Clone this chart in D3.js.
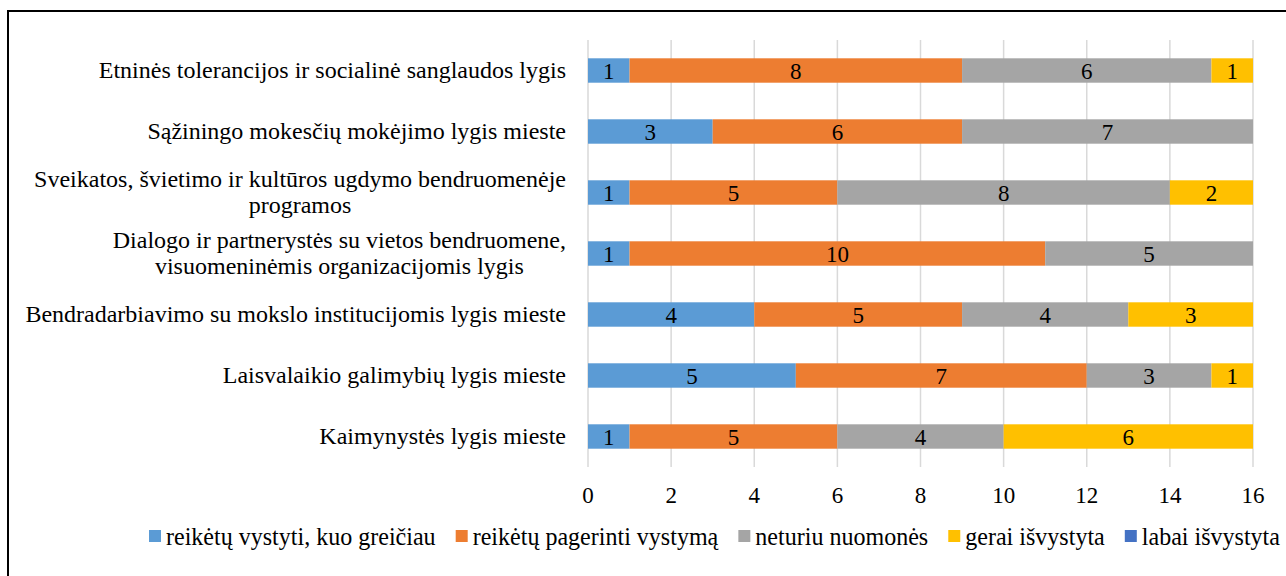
<!DOCTYPE html>
<meta charset="utf-8">
<html lang="lt">
<head>
<title>Stacked bars</title>
<style>
  body { margin: 0; background: #fff; }
</style>
</head>
<body>
<div id="chart"></div>
<script src="https://d3js.org/d3.v7.min.js"></script>
<script>
// categories, top to bottom (each entry = label lines)
const categories = [
  ["Etninės tolerancijos ir socialinė sanglaudos lygis"],
  ["Sąžiningo mokesčių mokėjimo lygis mieste"],
  ["Sveikatos, švietimo ir kultūros ugdymo bendruomenėje", "programos"],
  ["Dialogo ir partnerystės su vietos bendruomene,", "visuomeninėmis organizacijomis lygis"],
  ["Bendradarbiavimo su mokslo institucijomis lygis mieste"],
  ["Laisvalaikio galimybių lygis mieste"],
  ["Kaimynystės lygis mieste"]
];
const seriesNames = ["reikėtų vystyti, kuo greičiau", "reikėtų pagerinti vystymą", "neturiu nuomonės", "gerai išvystyta", "labai išvystyta"];
const seriesColors = ["#5B9BD5", "#ED7D31", "#A5A5A5", "#FFC000", "#4472C4"];
// values per series, in category order
const vystytiGreiciau = [1, 3, 1, 1, 4, 5, 1];
const pagerinti       = [8, 6, 5, 10, 5, 7, 5];
const neturiu         = [6, 7, 8, 5, 4, 3, 4];
const geraiIsvystyta  = [1, 0, 2, 0, 3, 1, 6];
const labaiIsvystyta  = [0, 0, 0, 0, 0, 0, 0];
const xTicks = [0, 2, 4, 6, 8, 10, 12, 14, 16];

const FONT = "'Liberation Serif', 'Times New Roman', serif";
const W = 1286, H = 576;
const svg = d3.select("#chart").append("svg").attr("width", W).attr("height", H)
  .attr("font-family", FONT);

// outer frame (runs off the right / bottom edge like the picture)
svg.append("rect").attr("x", 8).attr("y", 11).attr("width", W + 10).attr("height", H + 10)
  .attr("fill", "none").attr("stroke", "#000").attr("stroke-width", 2);

const values = [vystytiGreiciau, pagerinti, neturiu, geraiIsvystyta, labaiIsvystyta];
const rows = categories.map((c, i) => {
  const r = { key: i };
  values.forEach((v, s) => r["s" + s] = v[i]);
  return r;
});
const stack = d3.stack().keys(values.map((v, s) => "s" + s))(rows);

const x = d3.scaleLinear().domain([0, 16]).range([588, 1253]);
const y = d3.scaleBand().domain(d3.range(categories.length)).range([40, 467])
  .paddingInner(0.6).paddingOuter(0.3);

// grid
svg.append("g").selectAll("line").data(xTicks).enter().append("line")
  .attr("x1", d => x(d)).attr("x2", d => x(d))
  .attr("y1", 40).attr("y2", 467)
  .attr("stroke", "#D9D9D9").attr("stroke-width", 1.5);

// bars
const layer = svg.append("g").selectAll("g").data(stack).enter().append("g")
  .attr("fill", (d, i) => seriesColors[i]);
layer.selectAll("rect").data(d => d).enter().append("rect")
  .attr("x", d => x(d[0])).attr("width", d => x(d[1]) - x(d[0]))
  .attr("y", (d, i) => y(i)).attr("height", y.bandwidth());

layer.selectAll("text").data(d => d.filter(p => p[1] - p[0] > 0)).enter().append("text")
  .attr("x", d => (x(d[0]) + x(d[1])) / 2)
  .attr("y", d => y(d.data.key) + y.bandwidth() / 2)
  .attr("dy", "0.35em").attr("text-anchor", "middle")
  .attr("fill", "#000").style("font-family", FONT).style("font-size", "23px")
  .text(d => d[1] - d[0]);

// x tick labels
svg.append("g").selectAll("text").data(xTicks).enter().append("text")
  .attr("x", d => x(d)).attr("y", 503).attr("text-anchor", "middle")
  .style("font-family", FONT).style("font-size", "23px").text(d => d);

// category labels: right edge at 566, multi-line centred within block
const labelRight = 566, lineH = 26;
categories.forEach((lines, i) => {
  const g = svg.append("g");
  const cy = y(i) + y.bandwidth() / 2;
  const texts = lines.map((t, j) => g.append("text")
    .attr("y", cy + (j - (lines.length - 1) / 2) * lineH)
    .attr("dy", "0.33em").attr("text-anchor", "middle")
    .style("font-family", FONT).style("font-size", "24px").text(t));
  const maxW = d3.max(texts, t => t.node().getComputedTextLength());
  texts.forEach(t => t.attr("x", labelRight - maxW / 2));
});

// legend: the text is squeezed horizontally so the row fits between 149 and 1280
const legend = svg.append("g");
const legendLeft = 149, legendRight = 1280, sw = 12, swGap = 5, gap = 20;
const items = seriesNames.map((name, i) => {
  const g = legend.append("g");
  g.append("rect").attr("width", sw).attr("height", sw).attr("y", -7).attr("fill", seriesColors[i]);
  const t = g.append("text").attr("dy", "0.3em")
    .style("font-family", FONT).style("font-size", "25px").text(name);
  return { g, t, w: t.node().getComputedTextLength() };
});
const natural = d3.sum(items, d => d.w);
const sx = (legendRight - legendLeft - items.length * (sw + swGap) - gap * (items.length - 1)) / natural;
let cx = legendLeft;
items.forEach(it => {
  it.g.attr("transform", `translate(${cx},537)`);
  it.t.attr("transform", `translate(${sw + swGap},0) scale(${sx},1)`);
  cx += sw + swGap + it.w * sx + gap;
});
</script>
</body>
</html>
